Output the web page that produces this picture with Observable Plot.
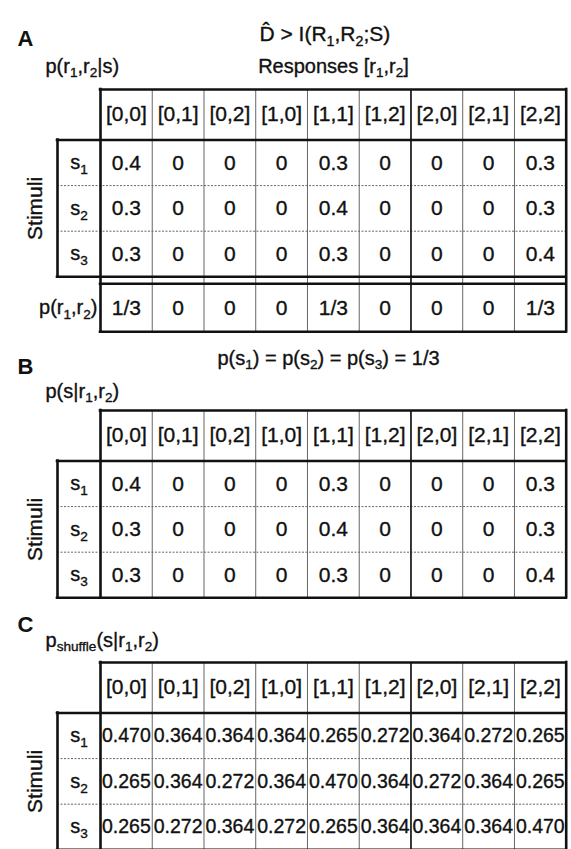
<!DOCTYPE html>
<html>
<head>
<meta charset="utf-8">
<style>
  html, body { margin: 0; padding: 0; background: #fff; }
</style>
<script src="https://cdn.jsdelivr.net/npm/d3@7"></script>
<script src="https://cdn.jsdelivr.net/npm/@observablehq/plot@0.6"></script>
</head>
<body>
<div id="chart"></div>
<script>
// ---------------- DATA ----------------
const responses = ["[0,0]", "[0,1]", "[0,2]", "[1,0]", "[1,1]", "[1,2]", "[2,0]", "[2,1]", "[2,2]"];
const stimuli = ["s_{1}", "s_{2}", "s_{3}"];

// Panel A: p(r1,r2|s)
const pRgivenS_s1 = [0.4, 0, 0, 0, 0.3, 0, 0, 0, 0.3];
const pRgivenS_s2 = [0.3, 0, 0, 0, 0.4, 0, 0, 0, 0.3];
const pRgivenS_s3 = [0.3, 0, 0, 0, 0.3, 0, 0, 0, 0.4];
const pR = ["1/3", "0", "0", "0", "1/3", "0", "0", "0", "1/3"];

// Panel B: p(s|r1,r2)
const pSgivenR_s1 = [0.4, 0, 0, 0, 0.3, 0, 0, 0, 0.3];
const pSgivenR_s2 = [0.3, 0, 0, 0, 0.4, 0, 0, 0, 0.3];
const pSgivenR_s3 = [0.3, 0, 0, 0, 0.3, 0, 0, 0, 0.4];

// Panel C: p_shuffle(s|r1,r2)
const pShuffle_s1 = [0.470, 0.364, 0.364, 0.364, 0.265, 0.272, 0.364, 0.272, 0.265];
const pShuffle_s2 = [0.265, 0.364, 0.272, 0.364, 0.470, 0.364, 0.272, 0.364, 0.265];
const pShuffle_s3 = [0.265, 0.272, 0.364, 0.272, 0.265, 0.364, 0.364, 0.364, 0.470];

// Texts
const titleText = "D\u0302 > I(R_{1},R_{2};S)";
const responsesLabel = "Responses [r_{1},r_{2}]";
const stimuliLabel = "Stimuli";
const marginalLabel = "p(r_{1},r_{2})";
const priorText = "p(s_{1}) = p(s_{2}) = p(s_{3}) = 1/3";

// ---------------- LAYOUT ----------------
const W = 571, H = 849;
const X0 = 100, X1 = 565.7;
const COLW = (X1 - X0) / 9;
const cu = p => (p - X0) / COLW;          // pixel -> column units (x scale domain)
const STIM_LEFT = cu(57);
const HEADER_H = 50.5, ROW_H = 45.6, GAP = 7, MARG_H = 48;

const fmtSimple = v => v === 0 ? "0" : String(v);
const fmt3 = v => v.toFixed(3);

const panels = [
  {letter: "A", letterY: 38, label: "p(r_{1},r_{2}|s)", labelY: 65.6, top: 89,
   rows: [pRgivenS_s1, pRgivenS_s2, pRgivenS_s3], fmt: fmtSimple, fs: 21, marginal: pR},
  {letter: "B", letterY: 366, label: "p(s|r_{1},r_{2})", labelY: 390.6, top: 410,
   rows: [pSgivenR_s1, pSgivenR_s2, pSgivenR_s3], fmt: fmtSimple, fs: 21},
  {letter: "C", letterY: 624, label: "p_{shuffle}(s|r_{1},r_{2})", labelY: 639.6, top: 662,
   rows: [pShuffle_s1, pShuffle_s2, pShuffle_s3], fmt: fmt3, fs: 19.5}
];

const cellTexts = [], headTexts = [], stimTexts = [], rotTexts = [], labelTexts = [], letterTexts = [], endTexts = [];
const thick = [], thickY = [], thin = [], mid = [], dashY = [];

for (const p of panels) {
  const hTop = p.top, hBot = p.top + HEADER_H, bBot = hBot + 3 * ROW_H;
  let fullBot = bBot;
  letterTexts.push({x: cu(17), y: p.letterY, t: p.letter});
  labelTexts.push({x: cu(45), y: p.labelY, t: p.label});
  responses.forEach((r, i) => headTexts.push({x: i + 0.5, y: hTop + HEADER_H / 2, t: r}));
  p.rows.forEach((row, j) => {
    const cy = hBot + ROW_H * (j + 0.5);
    stimTexts.push({x: (STIM_LEFT) / 2, y: cy, t: stimuli[j]});
    row.forEach((v, i) => cellTexts.push({x: i + 0.5, y: cy, t: p.fmt(v), fs: p.fs}));
  });
  rotTexts.push({x: cu(35), y: (hBot + bBot) / 2, t: stimuliLabel});

  if (p.marginal) {
    const mTop = bBot + GAP, mBot = mTop + MARG_H;
    fullBot = mBot;
    p.marginal.forEach((v, i) => cellTexts.push({x: i + 0.5, y: (mTop + mBot) / 2, t: v, fs: p.fs}));
    endTexts.push({x: cu(97), y: (mTop + mBot) / 2, t: marginalLabel});
    thickY.push({y: mTop, x1: 0, x2: 9}, {y: mBot, x1: 0, x2: 9});
  }
  // thick outer lines
  thickY.push({y: hTop, x1: 0, x2: 9});
  thickY.push({y: hBot, x1: STIM_LEFT, x2: 9});
  thickY.push({y: bBot, x1: STIM_LEFT, x2: 9});
  thick.push({x: 0, y1: hTop, y2: fullBot});
  thick.push({x: 9, y1: hTop, y2: fullBot});
  thick.push({x: STIM_LEFT, y1: hBot, y2: bBot});
  // interior column lines
  for (let i = 1; i < 9; i++) {
    (i === 6 ? mid : thin).push({x: i, y1: hTop, y2: fullBot});
  }
  // row separators
  for (let j = 1; j < 3; j++) dashY.push({y: hBot + j * ROW_H, x1: STIM_LEFT, x2: 9});
}

const FONT = "'Liberation Sans', Arial, Helvetica, sans-serif";
const INK = "#111";
const TXT = {fill: INK, stroke: INK, strokeWidth: 0.35};

const chart = Plot.plot({
  width: W,
  height: H,
  margin: 0,
  x: {type: "linear", domain: [0, 9], range: [X0, X1], axis: null},
  y: {type: "linear", domain: [0, H], range: [0, H], axis: null},
  style: {fontFamily: FONT, background: "#fff", color: INK},
  marks: [
    Plot.ruleY(dashY, {y: "y", x1: "x1", x2: "x2", stroke: "#666", strokeWidth: 1, strokeDasharray: "2,1.5"}),
    Plot.ruleX(thin, {x: "x", y1: "y1", y2: "y2", stroke: "#666", strokeWidth: 1}),
    Plot.ruleX(mid, {x: "x", y1: "y1", y2: "y2", stroke: "#222", strokeWidth: 1.8}),
    Plot.ruleX(thick, {x: "x", y1: "y1", y2: "y2", stroke: INK, strokeWidth: 2.6, strokeLinecap: "square"}),
    Plot.ruleY(thickY, {y: "y", x1: "x1", x2: "x2", stroke: INK, strokeWidth: 2.6, strokeLinecap: "square"}),
    Plot.text(headTexts, {x: "x", y: "y", text: "t", fontSize: 21, ...TXT}),
    Plot.text(cellTexts, {x: "x", y: "y", text: "t", fontSize: "fs", ...TXT}),
    Plot.text(stimTexts, {x: "x", y: "y", text: "t", fontSize: 20, ...TXT}),
    Plot.text(rotTexts, {x: "x", y: "y", text: "t", fontSize: 21, rotate: -90, ...TXT}),
    Plot.text(labelTexts, {x: "x", y: "y", text: "t", fontSize: 20, textAnchor: "start", ...TXT}),
    Plot.text(endTexts, {x: "x", y: "y", text: "t", fontSize: 20, textAnchor: "end", ...TXT}),
    Plot.text(letterTexts, {x: "x", y: "y", text: "t", fontSize: 22, fontWeight: "bold", textAnchor: "start", fill: INK}),
    Plot.text([{x: cu(259), y: 33.3, t: titleText}], {x: "x", y: "y", text: "t", fontSize: 21, textAnchor: "start", ...TXT}),
    Plot.text([{x: cu(333), y: 65.6, t: responsesLabel}], {x: "x", y: "y", text: "t", fontSize: 20, ...TXT}),
    Plot.text([{x: cu(328), y: 357.6, t: priorText}], {x: "x", y: "y", text: "t", fontSize: 20, ...TXT})
  ]
});

document.getElementById("chart").appendChild(chart);

// Convert _{...} markers into real subscript tspans
const NS = "http://www.w3.org/2000/svg";
chart.querySelectorAll("text").forEach(t => {
  const s = t.textContent;
  if (!/_\{/.test(s)) return;
  const fs = parseFloat(getComputedStyle(t).fontSize) || 20;
  while (t.firstChild) t.removeChild(t.firstChild);
  const shift = fs * 0.24;
  let shifted = false;
  const add = (txt, sub) => {
    const ts = document.createElementNS(NS, "tspan");
    ts.textContent = txt;
    if (sub) {
      ts.setAttribute("font-size", (fs * 0.68).toFixed(2));
      ts.setAttribute("dy", shift.toFixed(2));
      shifted = true;
    } else if (shifted) {
      ts.setAttribute("dy", (-shift).toFixed(2));
      shifted = false;
    }
    t.appendChild(ts);
  };
  const re = /_\{([^}]*)\}/g;
  let last = 0, m;
  while ((m = re.exec(s))) {
    if (m.index > last) add(s.slice(last, m.index), false);
    add(m[1], true);
    last = re.lastIndex;
  }
  if (last < s.length) add(s.slice(last), false);
});
</script>
</body>
</html>
